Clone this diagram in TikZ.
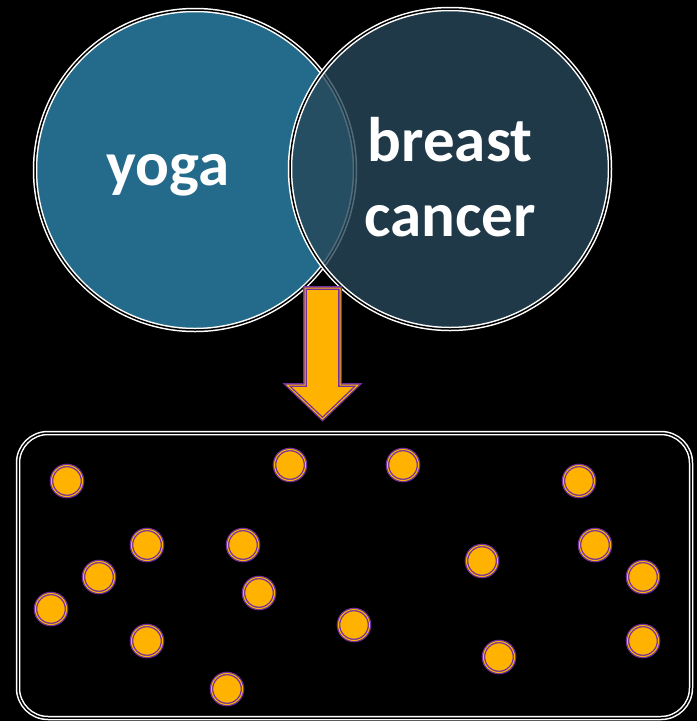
\documentclass[tikz,border=0pt]{standalone}
\usepackage{fontspec}
\setmainfont{Carlito}
\definecolor{yogablue}{RGB}{36,106,138}
\definecolor{cancerblue}{RGB}{39,72,90}
\definecolor{gold}{RGB}{255,178,0}
\definecolor{purp}{RGB}{112,48,160}
\tikzset{
    venn/.style={circle, draw=white, double=black, double distance=1.5pt, line width=1.5pt, minimum size=320pt, inner sep=0pt},
    venntext/.style={text=white, font=\fontsize{63}{75}\selectfont\bfseries, align=center},
    dot/.style={circle, draw=purp, line width=1.3pt, double=gold, double distance=1pt, fill=gold, minimum size=31pt, inner sep=0pt},
}
\begin{document}
\begin{tikzpicture}[x=1pt, y=-1pt]
    \useasboundingbox[fill=black] (0,0) rectangle (697,721);

    % Circles
    \node[venn, fill=yogablue] (yoga) at (195,170) {};
    \node[venn, fill=cancerblue, fill opacity=0.8] (cancer) at (450,169) {};
    \node[venntext] (yogatext) at (168,175) {yoga};
    \node[venntext] (cancertext) at (450,177) {breast\\cancer};

    % Arrow
    \draw[draw=purp, line width=1.3pt, double=gold, double distance=1pt, fill=gold, line join=miter]
        (305,288) -- (340,288) -- (340,385) -- (358,385) -- (322.5,419)
        -- (287,385) -- (305,385) -- cycle;

    % Pool
    \draw[white, line width=1.5pt, double=black, double distance=1.5pt, rounded corners=30pt]
        (18,433) rectangle (691,718);

    % Dots
    \foreach \x/\y [count=\i] in {67/481, 290/465, 403/465, 579/481, 147/545, 243/545,
        595/545, 482/561, 99/577, 643/577, 51/609, 259/593, 354/625, 147/641,
        643/641, 499/657, 227/689}
        \node[dot] (dot\i) at (\x,\y) {};
\end{tikzpicture}
\end{document}
